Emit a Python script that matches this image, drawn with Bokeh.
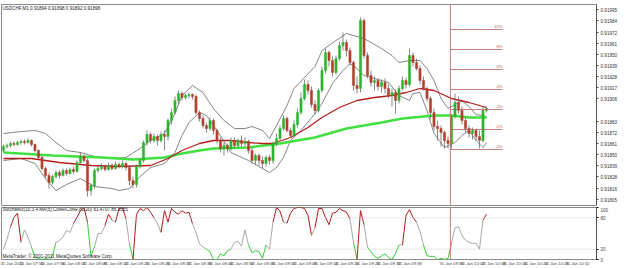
from bokeh.plotting import figure
from bokeh.layouts import column
from bokeh.models import Range1d, FixedTicker, PrintfTickFormatter, Span, Label, ColumnDataSource
from bokeh.core.properties import value
from bokeh.embed import file_html
from bokeh.resources import INLINE

# ---------------- data ----------------
header_text = "USDCHF,M1  0.91894 0.91898 0.91892 0.91896"
stoch_text = "Stochastic(10,3,4,MA(5),Close/Close,80,20)  61.4707  86.9565"
copyright_text = "MetaTrader, \u00a9 2001-2011 MetaQuotes Software Corp."

opens = [0.91854,0.91858,0.91859,0.91861,0.91860,0.91862,0.91863,0.91862,0.91864,0.91860,
         0.91854,0.91847,0.91836,0.91829,0.91822,0.91828,0.91832,0.91829,0.91834,0.91831,
         0.91835,0.91833,0.91842,0.91848,0.91844,0.91814,0.91819,0.91834,0.91836,0.91838,
         0.91835,0.91839,0.91836,0.91840,0.91838,0.91841,0.91837,0.91824,0.91820,0.91838,
         0.91844,0.91862,0.91870,0.91864,0.91868,0.91864,0.91870,0.91868,0.91884,0.91892,
         0.91904,0.91911,0.91907,0.91909,0.91910,0.91908,0.91892,0.91886,0.91879,0.91876,
         0.91884,0.91874,0.91864,0.91856,0.91859,0.91856,0.91864,0.91859,0.91864,0.91861,
         0.91863,0.91854,0.91844,0.91849,0.91844,0.91841,0.91847,0.91844,0.91861,0.91866,
         0.91876,0.91886,0.91874,0.91869,0.91880,0.91892,0.91906,0.91920,0.91914,0.91900,
         0.91894,0.91914,0.91934,0.91952,0.91944,0.91932,0.91946,0.91959,0.91962,0.91954,
         0.91942,0.91919,0.91916,0.91984,0.91949,0.91929,0.91922,0.91924,0.91918,0.91922,
         0.91916,0.91909,0.91912,0.91904,0.91916,0.91924,0.91920,0.91949,0.91942,0.91936,
         0.91924,0.91916,0.91906,0.91892,0.91878,0.91876,0.91872,0.91864,0.91861,0.91888,
         0.91902,0.91894,0.91884,0.91876,0.91871,0.91874,0.91868,0.91864,0.91894]
closes = [0.91858,0.91859,0.91861,0.91860,0.91862,0.91863,0.91862,0.91864,0.91860,0.91854,
          0.91847,0.91836,0.91829,0.91822,0.91828,0.91832,0.91829,0.91834,0.91831,0.91835,
          0.91833,0.91842,0.91848,0.91844,0.91814,0.91819,0.91834,0.91836,0.91838,0.91835,
          0.91839,0.91836,0.91840,0.91838,0.91841,0.91837,0.91824,0.91820,0.91838,0.91844,
          0.91862,0.91870,0.91864,0.91868,0.91864,0.91870,0.91868,0.91884,0.91892,0.91904,
          0.91911,0.91907,0.91909,0.91910,0.91908,0.91892,0.91886,0.91879,0.91876,0.91884,
          0.91874,0.91864,0.91856,0.91859,0.91856,0.91864,0.91859,0.91864,0.91861,0.91863,
          0.91854,0.91844,0.91849,0.91844,0.91841,0.91847,0.91844,0.91861,0.91866,0.91876,
          0.91886,0.91874,0.91869,0.91880,0.91892,0.91906,0.91920,0.91914,0.91900,0.91894,
          0.91914,0.91934,0.91952,0.91944,0.91932,0.91946,0.91959,0.91962,0.91954,0.91942,
          0.91919,0.91916,0.91984,0.91949,0.91929,0.91922,0.91924,0.91918,0.91922,0.91916,
          0.91909,0.91912,0.91904,0.91916,0.91924,0.91920,0.91949,0.91942,0.91936,0.91924,
          0.91916,0.91906,0.91892,0.91878,0.91876,0.91872,0.91864,0.91861,0.91888,0.91902,
          0.91894,0.91884,0.91876,0.91871,0.91874,0.91868,0.91864,0.91894,0.91896]
highs = [0.91860,0.91861,0.91863,0.91863,0.91864,0.91865,0.91865,0.91866,0.91865,0.91861,
         0.91855,0.91849,0.91838,0.91832,0.91830,0.91834,0.91834,0.91836,0.91836,0.91837,
         0.91838,0.91844,0.91852,0.91850,0.91846,0.91821,0.91836,0.91839,0.91841,0.91840,
         0.91842,0.91841,0.91843,0.91842,0.91844,0.91843,0.91839,0.91828,0.91840,0.91846,
         0.91864,0.91874,0.91872,0.91871,0.91870,0.91873,0.91874,0.91886,0.91896,0.91908,
         0.91914,0.91913,0.91911,0.91912,0.91911,0.91910,0.91894,0.91889,0.91882,0.91887,
         0.91886,0.91876,0.91867,0.91862,0.91861,0.91867,0.91867,0.91866,0.91869,0.91867,
         0.91865,0.91857,0.91851,0.91851,0.91848,0.91849,0.91850,0.91863,0.91871,0.91879,
         0.91889,0.91888,0.91877,0.91884,0.91896,0.91912,0.91925,0.91924,0.91918,0.91904,
         0.91916,0.91938,0.91956,0.91954,0.91948,0.91949,0.91963,0.91972,0.91965,0.91957,
         0.91944,0.91928,0.91987,0.91986,0.91952,0.91934,0.91928,0.91926,0.91925,0.91926,
         0.91920,0.91916,0.91915,0.91919,0.91928,0.91927,0.91956,0.91952,0.91946,0.91939,
         0.91928,0.91918,0.91908,0.91896,0.91884,0.91879,0.91874,0.91868,0.91890,0.91911,
         0.91908,0.91898,0.91887,0.91879,0.91877,0.91876,0.91874,0.91898,0.91898]
lows = [0.91852,0.91856,0.91857,0.91858,0.91859,0.91860,0.91860,0.91861,0.91858,0.91852,
        0.91845,0.91834,0.91826,0.91816,0.91820,0.91826,0.91826,0.91828,0.91829,0.91830,
        0.91831,0.91832,0.91841,0.91842,0.91808,0.91809,0.91816,0.91832,0.91834,0.91833,
        0.91834,0.91834,0.91835,0.91836,0.91836,0.91834,0.91819,0.91816,0.91817,0.91836,
        0.91842,0.91859,0.91861,0.91862,0.91859,0.91862,0.91854,0.91864,0.91880,0.91890,
        0.91901,0.91904,0.91905,0.91906,0.91905,0.91890,0.91883,0.91876,0.91872,0.91874,
        0.91870,0.91861,0.91852,0.91849,0.91852,0.91854,0.91856,0.91857,0.91858,0.91858,
        0.91851,0.91841,0.91840,0.91839,0.91836,0.91838,0.91840,0.91841,0.91858,0.91864,
        0.91874,0.91872,0.91867,0.91868,0.91877,0.91890,0.91904,0.91910,0.91897,0.91890,
        0.91892,0.91912,0.91931,0.91938,0.91928,0.91930,0.91944,0.91954,0.91948,0.91939,
        0.91914,0.91911,0.91912,0.91946,0.91926,0.91918,0.91914,0.91914,0.91912,0.91911,
        0.91906,0.91898,0.91891,0.91901,0.91914,0.91916,0.91918,0.91938,0.91934,0.91920,
        0.91914,0.91903,0.91886,0.91874,0.91864,0.91858,0.91856,0.91856,0.91856,0.91886,
        0.91891,0.91880,0.91872,0.91867,0.91865,0.91864,0.91856,0.91862,0.91892]

# moving averages (sampled at bar indices)
ma_red_bar = [0,8,16,25,33,42,47,51,56,60,65,70,74,77,82,87,91,96,101,106,111,115,119,123,128,133,138]
ma_red = [0.91846,0.91846,0.91842,0.91839,0.91838,0.91839,0.91846,0.91854,0.91861,0.91864,0.91864,
          0.91862,0.91861,0.91861,0.91867,0.91877,0.91887,0.91897,0.91904,0.91907,0.91909,0.91912,
          0.91916,0.91914,0.91906,0.91902,0.91897]
ma_green_bar = [0,14,28,37,46,51,56,60,70,79,89,98,108,114,123,128,133,138]
ma_green = [0.91852,0.91849,0.91847,0.91845,0.91847,0.91851,0.91854,0.91856,0.91857,0.91861,
            0.91867,0.91876,0.91882,0.91886,0.91889,0.91889,0.91887,0.91887]

# bollinger bands
bb_up_bar = [0,5,9,12,15,18,22,26,31,35,39,42,46,49,51,54,57,60,63,66,69,71,74,76,78,81,83,86,89,91,
             95,98,101,103,105,108,111,113,116,119,121,123,125,127,129,131,133,135,138]
bb_up = [0.91871,0.91873,0.91874,0.91871,0.91862,0.91854,0.91852,0.91848,0.91846,0.91847,
         0.91856,0.91864,0.91871,0.91891,0.91909,0.91919,0.91912,0.91896,0.91884,0.91876,
         0.91876,0.91878,0.91874,0.91866,0.91879,0.91899,0.91916,0.91927,0.91938,0.91954,
         0.91964,0.91971,0.91968,0.91966,0.91962,0.91956,0.91949,0.91942,0.91944,0.91944,
         0.91936,0.91924,0.91906,0.91896,0.91900,0.91904,0.91898,0.91890,0.91888]
bb_lo_bar = [0,5,9,12,15,18,22,26,31,33,36,39,42,46,49,51,53,56,58,61,65,70,74,76,78,80,82,85,89,91,
             94,97,99,101,103,106,110,113,116,117,119,121,123,126,129,131,133,135,137,138]
bb_lo = [0.91844,0.91846,0.91841,0.91826,0.91814,0.91820,0.91826,0.91818,0.91816,0.91814,
         0.91816,0.91828,0.91837,0.91841,0.91852,0.91869,0.91882,0.91892,0.91889,0.91874,
         0.91852,0.91844,0.91836,0.91832,0.91837,0.91847,0.91864,0.91874,0.91891,0.91901,
         0.91921,0.91934,0.91941,0.91936,0.91929,0.91926,0.91922,0.91909,0.91904,0.91911,
         0.91912,0.91894,0.91871,0.91857,0.91862,0.91869,0.91874,0.91864,0.91857,0.91862]

# stochastic main line per bar
stoch = [20,39,63,81,89,33,57,43,24,4, 2,0,2,0,7,33,37,43,56,52,
         69,81,94,100,72,6,24,50,50,65, 87,76,72,98,100,78,30,0,87,98,
         94,100,91,80,69,52,94,72,98,91, 87,94,89,91,69,52,30,24,20,15,
         0,0,11,7,17,20,33,35,26,57, 28,13,17,15,2,28,20,72,100,93,
         72,70,89,98,100,100,98,85,46,61, 98,98,81,67,89,91,98,94,91,78,
         33,0,94,67,24,15,6,2,7,11, 4,0,11,28,28,85,96,81,72,54,
         28,7,6,6,0,2,0,2,31,61, 63,46,37,33,31,31,20,76,87]

# fibo levels
fib_levels = [0.91975,0.91955,0.91935,0.91915,0.91895,0.91875,0.91855]
fib_labels = ["10%","8%","6%","4%","2%","0%","-2%"]
fib_start_bar = 127.7
fib_end_bar = 142.6
vline_bar = 127.7
vline_time = "31 Jan 09:51"

price_ticks = [0.91995,0.91984,0.91972,0.91961,0.91950,0.91939,0.91928,0.91917,0.91906,
               0.91883,0.91872,0.91861,0.91850,0.91839,0.91828,0.91816,0.91805]
stoch_ticks = [0, 20, 80, 100]

time_tick_bars = [2,8,14,20,26,32,38,44,50,56,62,68,74,80,86,92,98,104,110,116,128,134,140,146,152,158,164]
time_labels = ["31 Jan 2012","31 Jan 07:50","31 Jan 07:56","31 Jan 08:02","31 Jan 08:08","31 Jan 08:14",
               "31 Jan 08:20","31 Jan 08:26","31 Jan 08:32","31 Jan 08:38","31 Jan 08:44","31 Jan 08:50",
               "31 Jan 08:56","31 Jan 09:02","31 Jan 09:08","31 Jan 09:14","31 Jan 09:20","31 Jan 09:26",
               "31 Jan 09:32","31 Jan 09:38","31 Jan 09:56","31 Jan 10:02","31 Jan 10:08","31 Jan 10:14",
               "31 Jan 10:20","31 Jan 10:26","31 Jan 10:32"]

# ---------------- styling ----------------
FONT = "Liberation Sans"
FS = "4.6px"
BULL = "#2cb52c"
BEAR = "#b0402c"
WICK = "#6a6a6a"
FIB = "#b8605a"
FRAME = "#8a8a8a"

n = len(closes)
bars = list(range(n))
xr = Range1d(-0.57, 169.43)

p1 = figure(width=625, height=207, x_range=xr, y_range=Range1d(0.91799, 0.92000),
            output_backend="svg", toolbar_location=None, y_axis_location="right",
            x_axis_location=None, min_border_left=1, min_border_right=29,
            min_border_top=4, min_border_bottom=2)
p1.xgrid.visible = False
p1.ygrid.visible = False
p1.outline_line_color = FRAME
p1.background_fill_color = "white"
p1.border_fill_color = "white"
ya = p1.yaxis[0]
ya.ticker = FixedTicker(ticks=price_ticks)
ya.formatter = PrintfTickFormatter(format="%.5f")
ya.major_label_text_font = FONT
ya.major_label_text_font_size = FS
ya.major_label_text_color = "#333333"
ya.major_tick_out = 2
ya.major_tick_in = 0
ya.minor_tick_out = 0
ya.minor_tick_in = 0
ya.major_label_standoff = 2
ya.axis_line_color = "#555555"
ya.major_tick_line_color = "#555555"

# bollinger + MAs
p1.line(bb_up_bar, bb_up, line_color="#505050", line_width=0.7)
p1.line(bb_lo_bar, bb_lo, line_color="#505050", line_width=0.7)
p1.line(ma_green_bar, ma_green, line_color="#3fe03f", line_width=2.4)
p1.line(ma_red_bar, ma_red, line_color="#b41e1e", line_width=1.3)

colors = [BULL if c >= o else BEAR for o, c in zip(opens, closes)]
src = ColumnDataSource(dict(x=bars, o=opens, c=closes, h=highs, l=lows,
                            top=[max(o, c) for o, c in zip(opens, closes)],
                            bot=[min(o, c) for o, c in zip(opens, closes)], col=colors))
p1.segment("x", "h", "x", "l", source=src, line_color=WICK, line_width=0.8)
p1.vbar(x="x", width=0.62, top="top", bottom="bot", source=src,
        fill_color="col", line_color="col", line_width=0.5)

# fibo + vertical line
fib_src = ColumnDataSource(dict(x0=[fib_start_bar]*len(fib_levels), x1=[fib_end_bar]*len(fib_levels),
                                y=fib_levels, t=fib_labels))
p1.segment("x0", "y", "x1", "y", source=fib_src, line_color=FIB, line_width=0.8)
p1.text(x="x1", y="y", text="t", source=fib_src, text_align="right", text_baseline="bottom",
        text_font=value(FONT), text_font_size=value("4.2px"), text_color=FIB, y_offset=-0.5)
p1.add_layout(Span(location=vline_bar, dimension="height", line_color="#c06060", line_width=0.8))

p1.add_layout(Label(x=1, y=200, x_units="screen", y_units="screen", text=header_text,
                    text_font=FONT, text_font_size=FS, text_color="#222222", text_baseline="top"))
p1.add_layout(Label(x=596, y=closes[-1], x_units="screen", y_units="data",
                    text="%.5f" % closes[-1], text_font=FONT, text_font_size=FS,
                    text_color="white", background_fill_color="black", text_baseline="middle",
                    padding=1))

# ---------------- stochastic ----------------
p2 = figure(width=625, height=61, x_range=xr, y_range=Range1d(0, 100),
            output_backend="svg", toolbar_location=None, y_axis_location="right",
            min_border_left=1, min_border_right=29, min_border_top=0, min_border_bottom=7)
p2.xgrid.visible = False
p2.ygrid.visible = False
p2.outline_line_color = FRAME
p2.background_fill_color = "white"
p2.border_fill_color = "white"
y2 = p2.yaxis[0]
y2.ticker = FixedTicker(ticks=stoch_ticks)
y2.major_label_text_font = FONT
y2.major_label_text_font_size = FS
y2.major_tick_out = 2
y2.major_tick_in = 0
y2.minor_tick_out = 0
y2.minor_tick_in = 0
y2.major_label_standoff = 2
y2.axis_line_color = "#555555"
x2 = p2.xaxis[0]
x2.ticker = FixedTicker(ticks=time_tick_bars)
x2.major_label_overrides = {b: t for b, t in zip(time_tick_bars, time_labels)}
x2.major_label_text_font = FONT
x2.major_label_text_font_size = "4.2px"
x2.major_tick_out = 0
x2.major_tick_in = 0
x2.minor_tick_out = 0
x2.minor_tick_in = 0
x2.major_label_standoff = 1
x2.axis_line_color = None

for lv in (80, 20):
    p2.add_layout(Span(location=lv, dimension="width", line_color="#c8c8c8",
                       line_width=0.8, line_dash="1 1"))

seg_xs, seg_ys, seg_c = [], [], []
for i in range(n - 1):
    a, b = stoch[i], stoch[i + 1]
    if a > 80 or b > 80:
        col = "#b01818"
    elif a < 20 or b < 20:
        col = "#33cc33"
    else:
        col = "#a8a8a8"
    seg_xs.append([i, i + 1])
    seg_ys.append([a, b])
    seg_c.append(col)
p2.multi_line(xs=seg_xs, ys=seg_ys, line_color=seg_c, line_width=1)
p2.add_layout(Span(location=vline_bar, dimension="height", line_color="#c06060", line_width=0.8))

p2.add_layout(Label(x=1, y=53, x_units="screen", y_units="screen", text=stoch_text,
                    text_font=FONT, text_font_size=FS, text_color="#222222", text_baseline="top"))
p2.add_layout(Label(x=1, y=1, x_units="screen", y_units="screen", text=copyright_text,
                    text_font=FONT, text_font_size=FS, text_color="#222222", text_baseline="bottom"))
p2.add_layout(Label(x=vline_bar, y=-4, x_units="data", y_units="screen", text=vline_time,
                    text_font=FONT, text_font_size="4.2px", text_color="white",
                    background_fill_color="#d02020", text_align="center", text_baseline="middle",
                    padding=1))

layout = column(p1, p2, spacing=0)
open("out.html", "w").write(file_html(layout, INLINE))
